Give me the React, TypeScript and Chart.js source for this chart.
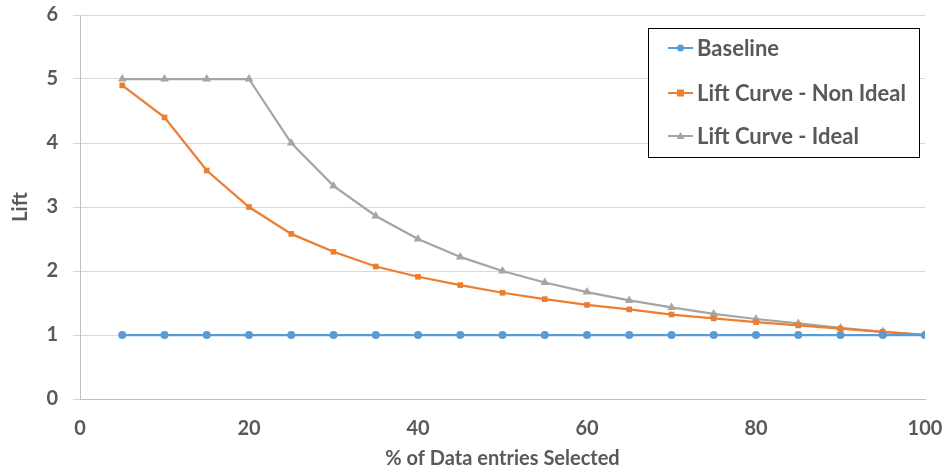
import React, { useEffect, useRef } from "react";
import { Chart, registerables } from "chart.js";

Chart.register(...registerables);

const xValues = [5, 10, 15, 20, 25, 30, 35, 40, 45, 50, 55, 60, 65, 70, 75, 80, 85, 90, 95, 100];
const baseline = [1, 1, 1, 1, 1, 1, 1, 1, 1, 1, 1, 1, 1, 1, 1, 1, 1, 1, 1, 1];
const nonIdeal = [4.9, 4.4, 3.57, 3.0, 2.58, 2.3, 2.07, 1.91, 1.78, 1.66, 1.56, 1.47, 1.4, 1.32, 1.26, 1.2, 1.15, 1.1, 1.05, 1.0];
const ideal = [5, 5, 5, 5, 4.0, 3.33, 2.86, 2.5, 2.22, 2.0, 1.82, 1.67, 1.54, 1.43, 1.33, 1.25, 1.18, 1.11, 1.05, 1.0];
const seriesNames = ["Baseline", "Lift Curve - Non Ideal", "Lift Curve - Ideal"];
const seriesColors = ["#5B9BD5", "#ED7D31", "#A5A5A5"];
const seriesMarkers = ["circle", "rect", "triangle"];
const xTitle = "% of Data entries Selected";
const yTitle = "Lift";

const FONT = "Lato, 'Open Sans', sans-serif";
const TXT = "#595959";

const legendPlugin = {
  id: "boxLegend",
  afterDraw(chart: any) {
    const ctx = chart.ctx;
    const left = 648, top = 28, w = 271, h = 129;
    ctx.save();
    ctx.fillStyle = "#ffffff";
    ctx.fillRect(left, top, w, h);
    ctx.strokeStyle = "#000000";
    ctx.lineWidth = 1;
    ctx.strokeRect(left + 0.5, top + 0.5, w, h);
    const rows = [48, 93, 136];
    chart.data.datasets.forEach((ds: any, i: number) => {
      const y = rows[i];
      ctx.strokeStyle = ds.borderColor;
      ctx.lineWidth = 2;
      ctx.beginPath();
      ctx.moveTo(668, y);
      ctx.lineTo(693, y);
      ctx.stroke();
      ctx.fillStyle = ds.backgroundColor;
      ctx.beginPath();
      if (ds.pointStyle === "circle") {
        ctx.arc(680.5, y, 3.5, 0, Math.PI * 2);
      } else if (ds.pointStyle === "rect") {
        ctx.rect(677, y - 3.5, 7, 7);
      } else {
        ctx.moveTo(680.5, y - 4);
        ctx.lineTo(684.5, y + 3);
        ctx.lineTo(676.5, y + 3);
        ctx.closePath();
      }
      ctx.fill();
      ctx.fillStyle = TXT;
      ctx.font = `bold 22px ${FONT}`;
      ctx.textBaseline = "middle";
      ctx.textAlign = "left";
      ctx.fillText(ds.label, 697, y + 1);
    });
    ctx.restore();
  },
};

export default function App() {
  const ref = useRef<HTMLCanvasElement>(null);
  useEffect(() => {
    document.body.style.margin = "0";
    const series = [baseline, nonIdeal, ideal];
    const chart = new Chart(ref.current!, {
      type: "line",
      data: {
        datasets: series.map((vals, i) => ({
          label: seriesNames[i],
          data: xValues.map((x, j) => ({ x, y: vals[j] })),
          borderColor: seriesColors[i],
          backgroundColor: seriesColors[i],
          borderWidth: 2.25,
          pointStyle: seriesMarkers[i] as any,
          pointRadius: i === 2 ? 5 : 4,
          pointBorderWidth: 0,
          tension: 0,
        })),
      },
      options: {
        animation: false,
        responsive: false,
        layout: { padding: { top: 15, right: 20, left: 0, bottom: 0 } },
        plugins: { legend: { display: false }, tooltip: { enabled: false } },
        scales: {
          x: {
            type: "linear",
            min: 0,
            max: 100,
            ticks: { stepSize: 20, color: TXT, font: { family: FONT, size: 20, weight: "bold" }, padding: 10, maxRotation: 0 },
            grid: { display: false },
            border: { display: true, color: "#BFBFBF", width: 1 },
            title: { display: true, text: xTitle, color: TXT, font: { family: FONT, size: 20, weight: "bold" }, padding: { top: 0, bottom: 5 } },
            afterFit(scale: any) {
              scale.height = 77;
              scale.paddingLeft = 0;
              scale.paddingRight = 0;
            },
          },
          y: {
            min: 0,
            max: 6,
            ticks: { stepSize: 1, color: TXT, font: { family: FONT, size: 20, weight: "bold" }, padding: 15 },
            grid: { color: "#D9D9D9", tickLength: 7, lineWidth: 1 },
            border: { display: true, color: "#BFBFBF", width: 1 },
            title: { display: true, text: yTitle, color: TXT, font: { family: FONT, size: 20, weight: "bold" }, padding: { top: 9, bottom: 0 } },
            afterFit(scale: any) {
              scale.width = 80;
              scale.paddingTop = 0;
              scale.paddingBottom = 0;
            },
          },
        },
      },
      plugins: [legendPlugin],
    });
    return () => chart.destroy();
  }, []);
  return <canvas ref={ref} width={945} height={476} style={{ display: "block" }} />;
}
